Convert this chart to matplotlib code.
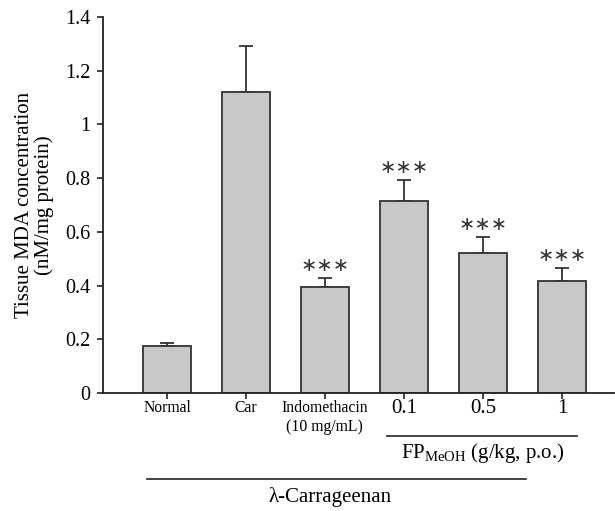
import matplotlib
matplotlib.use("Agg")
import matplotlib.pyplot as plt
from matplotlib.lines import Line2D

categories = ["Normal", "Car", "Indomethacin\n(10 mg/mL)", "0.1", "0.5", "1"]
means = [0.175, 1.12, 0.395, 0.715, 0.521, 0.417]
errors = [0.012, 0.172, 0.033, 0.078, 0.060, 0.048]
stars = ["", "", "∗∗∗", "∗∗∗", "∗∗∗", "∗∗∗"]
yticks = [0, 0.2, 0.4, 0.6, 0.8, 1.0, 1.2, 1.4]
yticklabels = ["0", "0.2", "0.4", "0.6", "0.8", "1", "1.2", "1.4"]

serif = "Liberation Serif"
plt.rcParams["mathtext.fontset"] = "custom"
plt.rcParams["mathtext.rm"] = serif
plt.rcParams["mathtext.it"] = serif + ":italic"

W, H = 615, 511
fig = plt.figure(figsize=(W / 100, H / 100), dpi=100)
ax = fig.add_axes([103 / W, 1 - 393 / H, (614 - 103) / W, (393 - 17) / H])

x = list(range(len(categories)))
ax.bar(x, means, width=0.61, color="#c8c8c8", edgecolor="#333333", linewidth=1.3, zorder=2)
ax.errorbar(x, means, yerr=[[0] * len(errors), errors], fmt="none", ecolor="#333333",
            elinewidth=1.3, capsize=5, capthick=1.3, zorder=1)

for xi, m, e, s in zip(x, means, errors, stars):
    if s:
        ax.text(xi, m + e + 0.012, s, ha="center", va="bottom", fontsize=14,
                family="DejaVu Sans", color="#333333")

ax.set_xlim(-0.81, 5.66)
ax.set_ylim(0, 1.4)
ax.set_yticks(yticks)
ax.set_yticklabels(yticklabels, family=serif, fontsize=14.5)
ax.set_xticks(x)
ax.set_xticklabels([])
for sp in ["top", "right"]:
    ax.spines[sp].set_visible(False)
for sp in ["left", "bottom"]:
    ax.spines[sp].set_linewidth(1.3)
    ax.spines[sp].set_color("#222222")
ax.tick_params(axis="both", direction="out", length=4, width=1.2, color="#222222")
ax.tick_params(axis="y", pad=5)

for xi, lab in zip(x, categories):
    if xi < 3:
        ax.text(xi, -0.025, lab, ha="center", va="top", fontsize=11.3, family=serif,
                linespacing=1.25, clip_on=False)
    else:
        ax.text(xi, -0.022, lab, ha="center", va="top", fontsize=15, family=serif,
                clip_on=False)

ax.set_ylabel("Tissue MDA concentration\n(nM/mg protein)", family=serif, fontsize=15,
              linespacing=1.05, labelpad=8)

def fx(px):
    return px / W

def fy(py):
    return 1 - py / H

fig.add_artist(Line2D([fx(387), fx(577)], [fy(436), fy(436)], color="#222222", lw=1.2))
fig.text(fx(483), fy(453), r"FP$_{\mathrm{MeOH}}$ (g/kg, p.o.)", ha="center", va="center",
         fontsize=15, family=serif)
fig.add_artist(Line2D([fx(147), fx(526)], [fy(479), fy(479)], color="#222222", lw=1.2))
fig.text(fx(330), fy(497), "λ-Carrageenan", ha="center", va="center", fontsize=15, family=serif)

fig.savefig("out.png", dpi=100)
